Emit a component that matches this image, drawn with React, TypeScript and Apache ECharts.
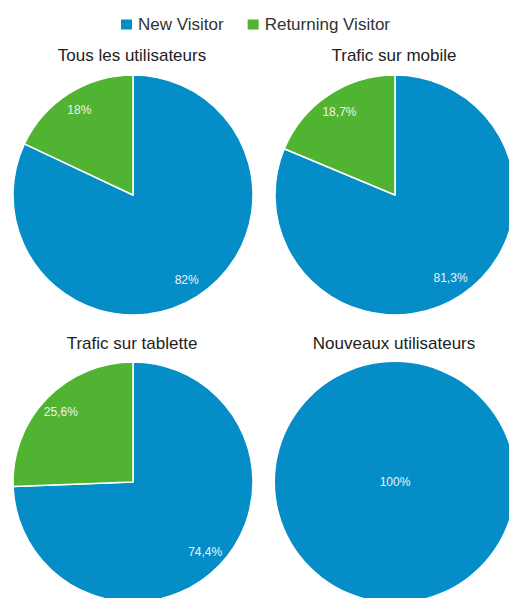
import React, { useEffect, useRef } from "react";
import * as echarts from "echarts";

const categories = ["New Visitor", "Returning Visitor"];
const titles = ["Tous les utilisateurs", "Trafic sur mobile", "Trafic sur tablette", "Nouveaux utilisateurs"];
const allUsers = [82, 18];
const mobile = [81.3, 18.7];
const tablet = [74.4, 25.6];
const newUsers = [100, 0];
const colors = ["#058DC7", "#50B432"];

const datasets = [allUsers, mobile, tablet, newUsers];
const centers = [
  [133, 195],
  [395, 195],
  [133, 482],
  [395, 482],
];
const titleTops = [42, 42, 330, 330];
const R = 120;
const FONT = "'Liberation Sans', Arial, sans-serif";

const fmt = (v: number) => String(v).replace(".", ",") + "%";

export default function App() {
  const ref = useRef<HTMLDivElement>(null);
  useEffect(() => {
    if (!ref.current) return;
    const chart = echarts.init(ref.current, null, { renderer: "svg" });
    const series: any[] = [];
    datasets.forEach((vals, i) => {
      const data = vals
        .map((v, k) => ({ name: categories[k], value: v, itemStyle: { color: colors[k] } }))
        .filter((d) => d.value > 0);
      const single = data.length === 1;
      series.push({
        type: "pie",
        center: centers[i],
        radius: [0, R],
        startAngle: 90,
        clockwise: true,
        silent: true,
        label: { show: false },
        labelLine: { show: false },
        itemStyle: { borderColor: "#fff", borderWidth: single ? 0 : 1.5 },
        data,
      });
      series.push({
        type: "pie",
        center: centers[i],
        radius: single ? [0, R] : [R * 0.62, R],
        startAngle: 90,
        clockwise: true,
        silent: true,
        itemStyle: { color: "rgba(0,0,0,0)" },
        label: {
          show: true,
          position: single ? "center" : "inside",
          color: "#f2f2f2",
          fontSize: 12,
          fontFamily: FONT,
          formatter: (p: any) => fmt(p.value),
        },
        labelLine: { show: false },
        data: data.map((d) => ({ name: d.name, value: d.value })),
      });
    });
    chart.setOption({
      animation: false,
      backgroundColor: "#fff",
      color: colors,
      legend: {
        data: categories,
        top: 11,
        left: "center",
        itemWidth: 13,
        itemHeight: 12,
        itemGap: 22,
        icon: "rect",
        textStyle: { fontSize: 17, color: "#333", fontFamily: FONT },
      },
      title: titles.map((t, i) => ({
        text: t,
        left: centers[i][0] - 6,
        top: titleTops[i],
        textAlign: "center",
        textStyle: { fontSize: 17, fontWeight: "normal", color: "#222", fontFamily: FONT },
      })),
      series,
    });
    return () => chart.dispose();
  }, []);
  return (
    <div
      ref={ref}
      style={{ position: "fixed", left: 0, top: 0, width: 509, height: 598 }}
    />
  );
}
